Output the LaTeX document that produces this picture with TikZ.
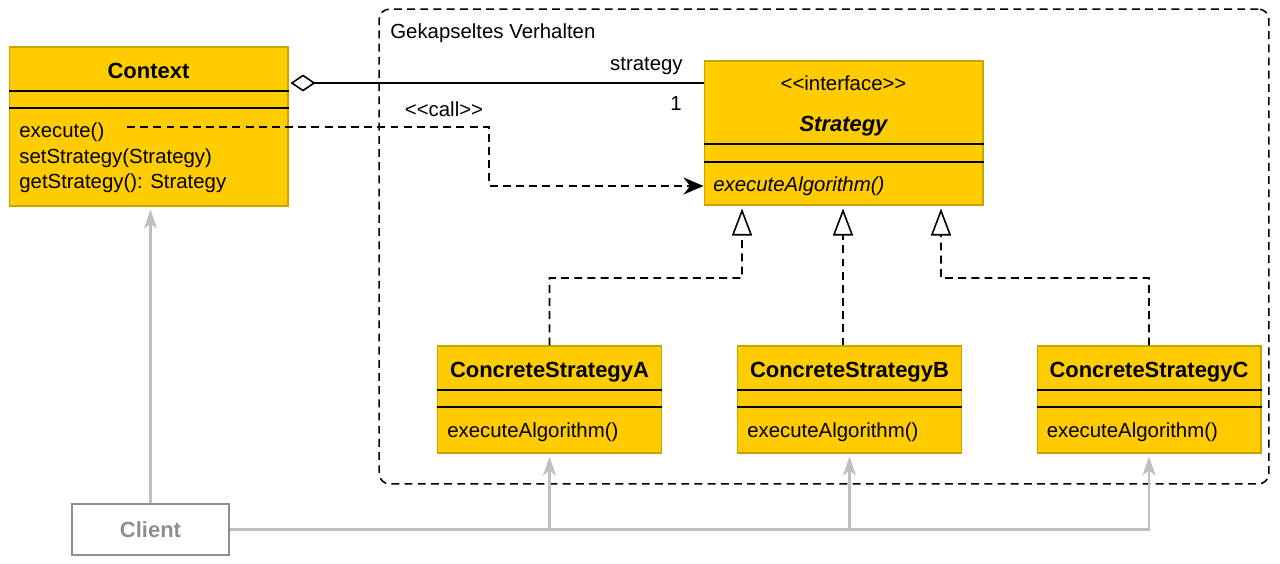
\documentclass[tikz,border=0pt]{standalone}
\usepackage{fontspec}
\setmainfont{Liberation Sans}
\usetikzlibrary{arrows.meta,positioning}
\definecolor{umlgold}{HTML}{FFCC00}
\definecolor{umledge}{HTML}{C9A400}
\definecolor{clientgray}{HTML}{8E8E8E}
\definecolor{linkgray}{HTML}{BFBFBF}
\begin{document}
\begin{tikzpicture}[x=0.02cm,y=-0.02cm,
    classbox/.style={draw=umledge,fill=umlgold,line width=0.6pt,inner sep=0pt},
    classname/.style={font=\fontsize{12.5}{15}\selectfont\bfseries,inner sep=0pt},
    member/.style={font=\fontsize{11.6}{14}\selectfont,inner sep=0pt},
    divider/.style={line width=0.9pt},
    umlline/.style={line width=0.9pt},
    dashline/.style={line width=0.9pt,dash pattern=on 4.5pt off 3pt},
    clientline/.style={draw=linkgray,line width=1.3pt,
        -{Stealth[length=0.38cm,width=0.26cm,inset=0.1cm,fill=linkgray]},shorten >=0.06cm}]
    \useasboundingbox (0,0) rectangle (1280,564);
    % frame round the encapsulated behaviour
    \node[draw,dashline,rounded corners=6pt,minimum width=17.8cm,minimum height=9.5cm] (frame) at (824,246.5) {};
    \node[member,anchor=west] (framelabel) at (390,33) {Gekapseltes Verhalten};
    % the context class
    \node[classbox,minimum width=5.58cm,minimum height=3.18cm] (ctx) at (148.5,126.5) {};
    \node[classname] (ctxname) at (148.5,71) {Context};
    \draw[divider] (ctx.west |- 0,91) -- (ctx.east |- 0,91);
    \draw[divider] (ctx.west |- 0,108) -- (ctx.east |- 0,108);
    \node[member,anchor=west] (ctxexec) at (19,132) {execute()};
    \node[member,anchor=west] (ctxset) at (19,158) {setStrategy(Strategy)};
    \node[member,anchor=west] (ctxget) at (19,183) {getStrategy(): Strategy};
    % the strategy interface
    \node[classbox,minimum width=5.58cm,minimum height=2.88cm] (strat) at (843.5,133) {};
    \node[member] (stratstereo) at (843.5,83) {<\kern0pt<interface>\kern0pt>};
    \node[classname,font=\fontsize{12.5}{15}\selectfont\bfseries\itshape] (stratname) at (843.5,126) {Strategy};
    \draw[divider] (strat.west |- 0,144) -- (strat.east |- 0,144);
    \draw[divider] (strat.west |- 0,162) -- (strat.east |- 0,162);
    \node[member,anchor=west,font=\fontsize{11.6}{14}\selectfont\itshape] (stratexec) at (713,186) {executeAlgorithm()};
    % the concrete strategies
    \foreach \n/\x in {A/549.5,B/849.5,C/1149}{
        \node[classbox,minimum width=4.48cm,minimum height=2.14cm] (cs\n) at (\x,399.5) {};
        \node[classname] (csname\n) at (\x,372) {ConcreteStrategy\n};
        \draw[divider] (cs\n.west |- 0,390) -- (cs\n.east |- 0,390);
        \draw[divider] (cs\n.west |- 0,407) -- (cs\n.east |- 0,407);
        \node[member,anchor=west] (csexec\n) at ([xshift=0.2cm]cs\n.west |- 0,432) {executeAlgorithm()};
    }
    % aggregation from context to strategy
    \draw[umlline,{Diamond[open,fill=white,length=0.5cm,width=0.34cm]}-,shorten <=0.04cm] (ctx.east |- 0,83) -- (strat.west |- 0,83);
    \node[member,anchor=east] (rolename) at (683,66) {strategy};
    \node[member,anchor=east] (multiplicity) at (682,103) {1};
    % call dependency
    \coordinate (callstart) at (127,127);
    \draw[dashline,-{Stealth[length=0.4cm,width=0.34cm]}] (callstart) -- (489,127) |- (strat.west |- 0,186);
    \node[member] (calllabel) at (444,109) {<\kern0pt<call>\kern0pt>};
    % realizations
    \draw[dashline,-{Triangle[open,fill=white,length=0.54cm,width=0.4cm]},shorten >=0.06cm] (csA.north) |- (742,278) -- ([xshift=-2.03cm]strat.south);
    \draw[dashline,-{Triangle[open,fill=white,length=0.54cm,width=0.4cm]},shorten >=0.06cm] ([xshift=-0.01cm]csB.north -| strat.south) -- ([xshift=-0.01cm]strat.south);
    \draw[dashline,-{Triangle[open,fill=white,length=0.54cm,width=0.4cm]},shorten >=0.06cm] (csC.north) |- (941,278) -- ([xshift=1.95cm]strat.south);
    % the client
    \node[draw=clientgray,line width=0.8pt,text=clientgray,font=\fontsize{12.5}{15}\selectfont\bfseries,
        minimum width=3.14cm,minimum height=1.02cm] (client) at (150.5,529.5) {Client};
    \draw[clientline] (client.north) -- (client.north |- ctx.south);
    \draw[clientline] (client.east) -| (csC.south);
    \draw[clientline] (csA.south |- client.east) -- (csA.south);
    \draw[clientline] (csB.south |- client.east) -- (csB.south);
\end{tikzpicture}
\end{document}
